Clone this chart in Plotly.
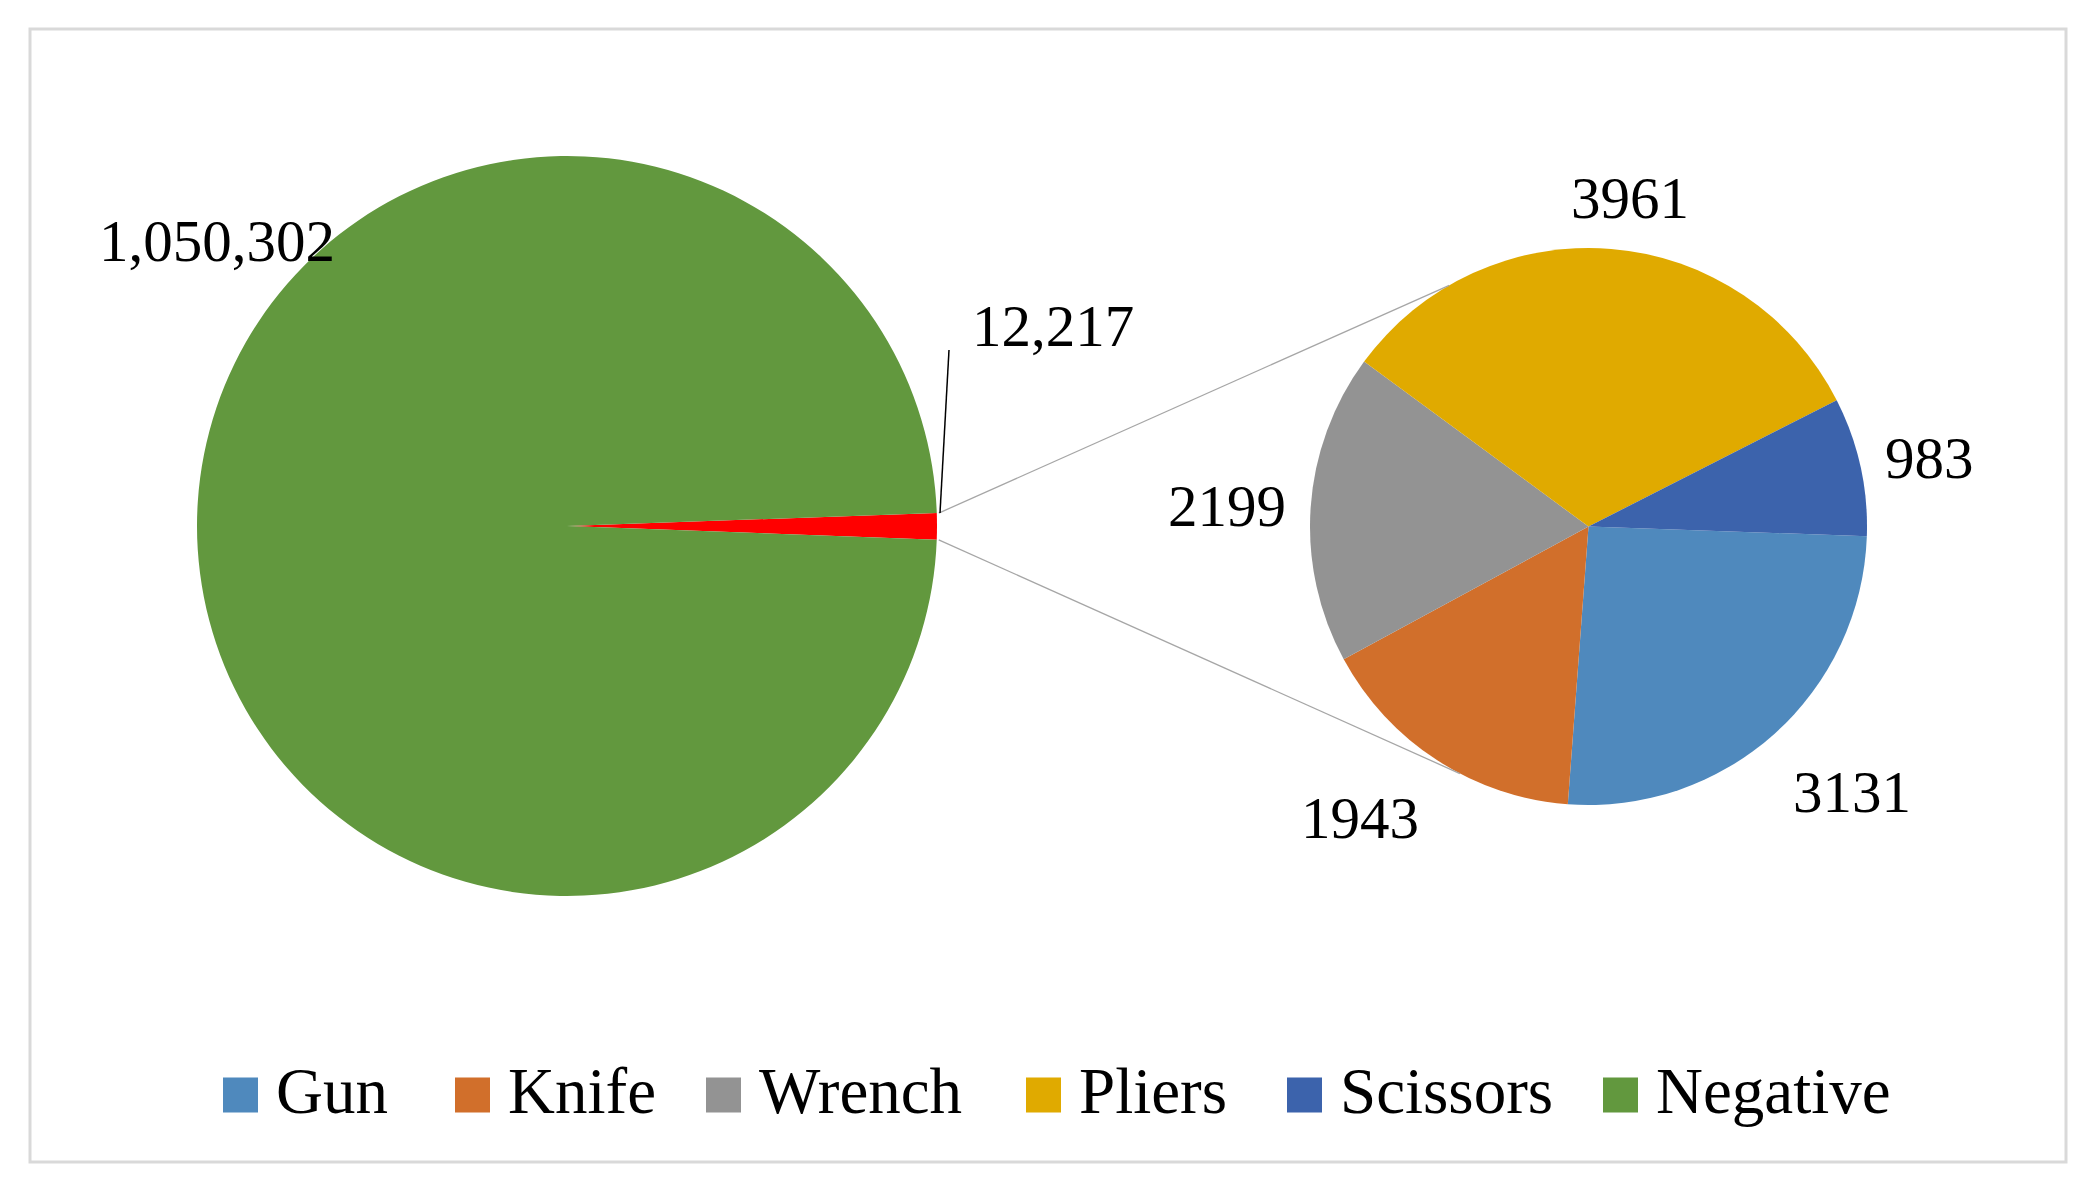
import math
import plotly.graph_objects as go

# ---------------- data ----------------
categories = ["Gun", "Knife", "Wrench", "Pliers", "Scissors"]
sub_values = [3131, 1943, 2199, 3961, 983]
sub_colors = ["#4F89BD", "#D16F2B", "#939393", "#E0AA00", "#3C63AC"]

neg_label = "Negative"
neg_value = 1050302
neg_color = "#62983E"
pos_color = "#FF0000"

main_labels = ["Positive", neg_label]
main_values = [sum(sub_values), neg_value]
main_colors = [pos_color, neg_color]

legend_labels = categories + [neg_label]
legend_colors = sub_colors + [neg_color]

# ---------------- layout helpers ----------------
W, H = 2098, 1201
OFF = 8  # page body margin offset
def px(x):
    return (x - OFF) / W
def py(y):
    return 1 - (y - OFF) / H

FONT = "Liberation Serif, Times New Roman, serif"

# geometry (pixels)
L_CX, L_CY, L_R = 567, 526, 370
R_CX, R_CY, R_R = 1588.5, 526.5, 278.5
MAIN_ROT = 88
SUB_ROT = 92

fig = go.Figure()

fig.add_trace(go.Pie(
    labels=main_labels, values=main_values,
    marker=dict(colors=main_colors, line=dict(width=0)),
    sort=False, direction="clockwise", rotation=MAIN_ROT,
    textinfo="none", showlegend=False,
    domain=dict(x=[px(L_CX - L_R), px(L_CX + L_R)], y=[py(L_CY + L_R), py(L_CY - L_R)]),
))

fig.add_trace(go.Pie(
    labels=categories, values=sub_values,
    marker=dict(colors=sub_colors, line=dict(width=0)),
    sort=False, direction="clockwise", rotation=SUB_ROT,
    textinfo="none", showlegend=False,
    domain=dict(x=[px(R_CX - R_R), px(R_CX + R_R)], y=[py(R_CY + R_R), py(R_CY - R_R)]),
))

shapes = []
annotations = []

# border
shapes.append(dict(type="rect", xref="paper", yref="paper",
                   x0=px(30), x1=px(2066), y0=py(29), y1=py(1162),
                   line=dict(color="#D9D9D9", width=3), fillcolor="rgba(0,0,0,0)"))

# connector lines from the red slice edges to the secondary pie
total = sum(main_values)
a0 = math.radians(MAIN_ROT)
a1 = math.radians(MAIN_ROT + 360 * main_values[0] / total)
p_top = (L_CX + L_R * math.sin(a0), L_CY - L_R * math.cos(a0))
p_bot = (L_CX + L_R * math.sin(a1), L_CY - L_R * math.cos(a1))
q_top_ang = math.radians(330)
q_bot_ang = math.radians(207.5)
q_top = (R_CX + R_R * math.sin(q_top_ang), R_CY - R_R * math.cos(q_top_ang))
q_bot = (R_CX + R_R * math.sin(q_bot_ang), R_CY - R_R * math.cos(q_bot_ang))
for p, q in [(p_top, q_top), (p_bot, q_bot)]:
    shapes.append(dict(type="line", xref="paper", yref="paper",
                       x0=px(p[0] + 2), y0=py(p[1]), x1=px(q[0]), y1=py(q[1]),
                       line=dict(color="#A6A6A6", width=1.3)))

# leader line for the positive total
shapes.append(dict(type="line", xref="paper", yref="paper",
                   x0=px(940), y0=py(513), x1=px(949), y1=py(350),
                   line=dict(color="#000000", width=1.5)))

# data labels
main_label_pos = [(1053, 326), (217, 241)]
for v, (x, y) in zip(main_values, main_label_pos):
    annotations.append(dict(text=f"{v:,}", x=px(x), y=py(y), xref="paper", yref="paper",
                            xanchor="center", yanchor="middle", showarrow=False,
                            font=dict(family=FONT, size=59, color="#000000")))

sub_label_pos = [(1852, 792), (1360, 818), (1227, 506), (1630, 198), (1929, 458)]
for v, (x, y) in zip(sub_values, sub_label_pos):
    annotations.append(dict(text=f"{v}", x=px(x), y=py(y), xref="paper", yref="paper",
                            xanchor="center", yanchor="middle", showarrow=False,
                            font=dict(family=FONT, size=59, color="#000000")))

# legend (manual, larger swatches)
legend_x = [223, 455, 706, 1026, 1287, 1603]
LEG_Y = 1095
SW = 35
for name, col, x in zip(legend_labels, legend_colors, legend_x):
    shapes.append(dict(type="rect", xref="paper", yref="paper",
                       x0=px(x), x1=px(x + SW), y0=py(LEG_Y + SW / 2), y1=py(LEG_Y - SW / 2),
                       line=dict(width=0), fillcolor=col))
    annotations.append(dict(text=name, x=px(x + SW + 16), y=py(LEG_Y - 4), xref="paper", yref="paper",
                            xanchor="left", yanchor="middle", showarrow=False,
                            font=dict(family=FONT, size=65, color="#000000")))

fig.update_layout(
    width=W, height=H,
    margin=dict(l=0, r=0, t=0, b=0),
    paper_bgcolor="white", plot_bgcolor="white",
    showlegend=False,
    shapes=shapes, annotations=annotations,
)

fig.write_html("out.html")
